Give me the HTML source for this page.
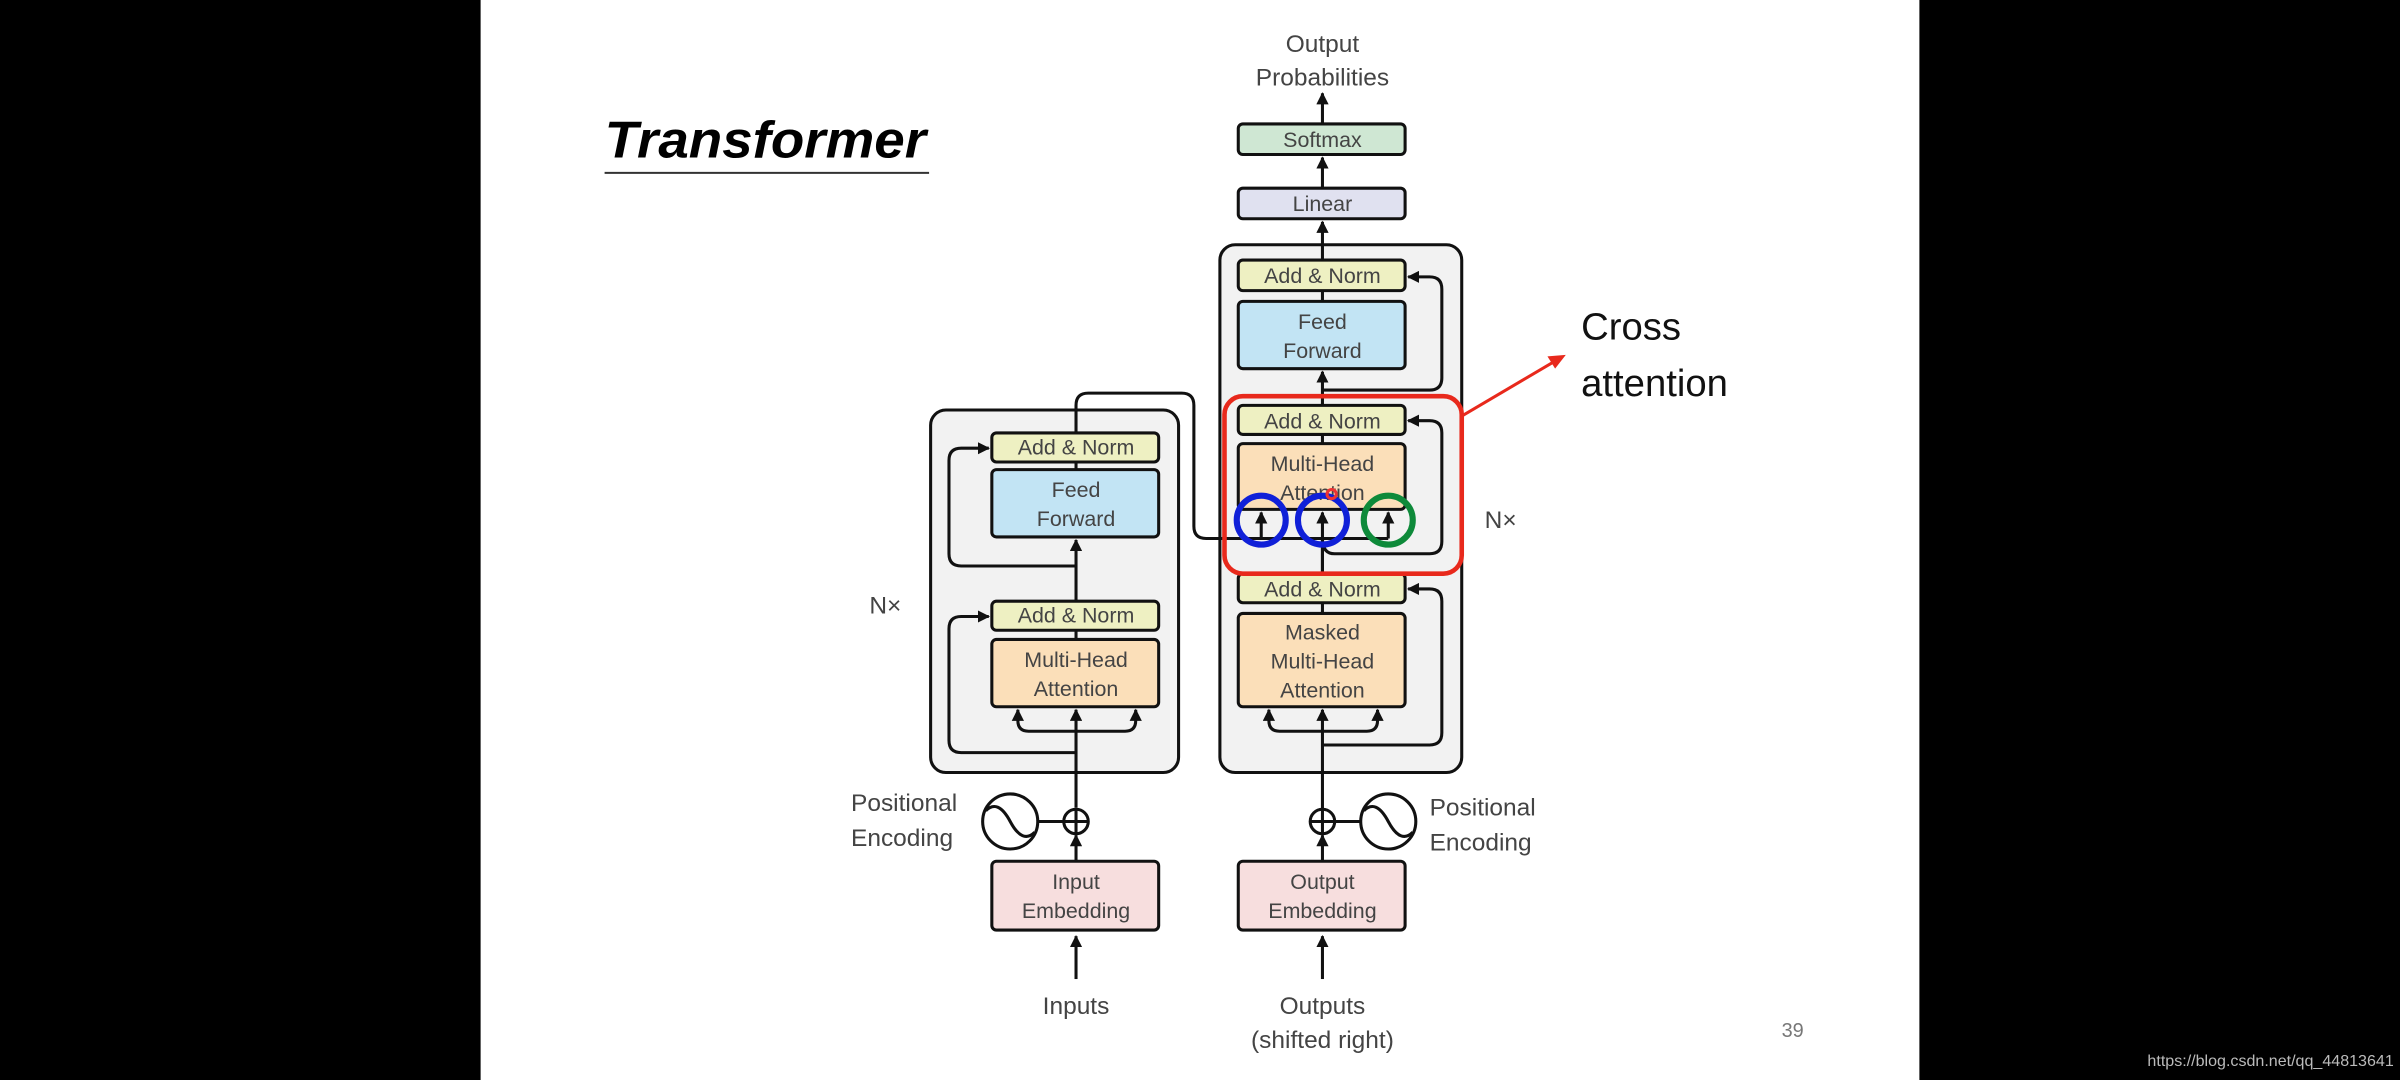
<!DOCTYPE html>
<html><head><meta charset="utf-8"><style>
html,body{margin:0;padding:0;background:#000;width:2400px;height:1080px;overflow:hidden}
svg{display:block}
text{font-family:"Liberation Sans",sans-serif}
</style></head><body>
<svg width="2400" height="1080" viewBox="0 0 1568 706" preserveAspectRatio="none" xmlns="http://www.w3.org/2000/svg">
<defs>
<marker id="a" viewBox="0 0 10 10" refX="9" refY="5" markerWidth="4" markerHeight="4" orient="auto"><path d="M0,0 L10,5 L0,10 z" fill="#111"/></marker>
</defs>
<rect x="0" y="0" width="1568" height="706" fill="#000"/>
<rect x="314" y="0" width="940" height="706" fill="#fff"/>
<text x="395" y="103" font-size="34" font-weight="bold" font-style="italic" textLength="210" lengthAdjust="spacingAndGlyphs" fill="#000">Transformer</text>
<line x1="395" y1="113" x2="607" y2="113" stroke="#333" stroke-width="1.3"/>

<g stroke="#111" stroke-width="2" fill="none">
<!-- encoder box -->
<rect x="608" y="268" width="162" height="237" rx="10" fill="#f2f2f2"/>
<!-- decoder box -->
<rect x="797" y="160" width="158" height="345" rx="10" fill="#f2f2f2"/>
</g>

<g stroke="#111" stroke-width="2" font-size="13">
<!-- encoder blocks -->
<rect x="648" y="283" width="109" height="19" rx="3" fill="#eef0c2"/>
<rect x="648" y="307" width="109" height="44" rx="3" fill="#c2e4f4"/>
<rect x="648" y="393" width="109" height="19" rx="3" fill="#eef0c2"/>
<rect x="648" y="418" width="109" height="44" rx="3" fill="#fbdfb9"/>
<rect x="648" y="563" width="109" height="45" rx="3" fill="#f7dede"/>
<!-- decoder blocks -->
<rect x="809" y="81" width="109" height="20" rx="3" fill="#cfe7d3"/>
<rect x="809" y="123" width="109" height="20" rx="3" fill="#e0e1f0"/>
<rect x="809" y="170" width="109" height="20" rx="3" fill="#eef0c2"/>
<rect x="809" y="197" width="109" height="44" rx="3" fill="#c2e4f4"/>
<rect x="809" y="265" width="109" height="19" rx="3" fill="#eef0c2"/>
<rect x="809" y="290" width="109" height="43" rx="3" fill="#fbdfb9"/>
<rect x="809" y="375" width="109" height="19" rx="3" fill="#eef0c2"/>
<rect x="809" y="401" width="109" height="61" rx="3" fill="#fbdfb9"/>
<rect x="809" y="563" width="109" height="45" rx="3" fill="#f7dede"/>
</g>

<g stroke="#111" stroke-width="2" fill="none">
<!-- encoder connectors -->
<line x1="703" y1="640" x2="703" y2="612" marker-end="url(#a)"/>
<line x1="703" y1="563" x2="703" y2="546" marker-end="url(#a)"/>
<line x1="703" y1="528" x2="703" y2="464" marker-end="url(#a)"/>
<path d="M703,478 H672 Q665,478 665,471 V464" marker-end="url(#a)"/>
<path d="M703,478 H735 Q742,478 742,471 V464" marker-end="url(#a)"/>
<path d="M703,492 H628 Q620,492 620,484 V411 Q620,403 628,403 H646" marker-end="url(#a)"/>
<line x1="703" y1="418" x2="703" y2="412"/>
<line x1="703" y1="393" x2="703" y2="353" marker-end="url(#a)"/>
<path d="M703,370 H628 Q620,370 620,362 V301 Q620,293 628,293 H646" marker-end="url(#a)"/>
<line x1="703" y1="307" x2="703" y2="302"/>
<path d="M703,283 V265 Q703,257 711,257 H772 Q780,257 780,265 V344 Q780,352 788,352 H907"/>
<circle cx="660" cy="537" r="18" fill="#fff"/>
<path d="M644,530 Q652,522 660,537 Q668,552 676,544"/>
<line x1="678" y1="537" x2="695" y2="537"/>
<circle cx="703" cy="537" r="8" fill="#fff"/>
<path d="M695,537 H711 M703,529 V545"/>
<!-- decoder connectors -->
<line x1="864" y1="640" x2="864" y2="612" marker-end="url(#a)"/>
<line x1="864" y1="563" x2="864" y2="546" marker-end="url(#a)"/>
<line x1="864" y1="529" x2="864" y2="464" marker-end="url(#a)"/>
<path d="M864,478 H836 Q829,478 829,471 V464" marker-end="url(#a)"/>
<path d="M864,478 H893 Q900,478 900,471 V464" marker-end="url(#a)"/>
<path d="M864,487 H934 Q942,487 942,479 V393 Q942,385 934,385 H920" marker-end="url(#a)"/>
<line x1="864" y1="401" x2="864" y2="394"/>
<path d="M864,375 V352 Q864,362 872,362 H934 Q942,362 942,354 V283 Q942,275 934,275 H920" marker-end="url(#a)"/>
<line x1="864" y1="375" x2="864" y2="352"/>
<line x1="824" y1="352" x2="824" y2="335" marker-end="url(#a)"/>
<line x1="864" y1="352" x2="864" y2="335" marker-end="url(#a)"/>
<line x1="907" y1="352" x2="907" y2="335" marker-end="url(#a)"/>
<line x1="864" y1="290" x2="864" y2="284"/>
<line x1="864" y1="265" x2="864" y2="243" marker-end="url(#a)"/>
<path d="M864,255 H934 Q942,255 942,247 V189 Q942,181 934,181 H920" marker-end="url(#a)"/>
<line x1="864" y1="197" x2="864" y2="190"/>
<line x1="864" y1="170" x2="864" y2="145" marker-end="url(#a)"/>
<line x1="864" y1="123" x2="864" y2="103" marker-end="url(#a)"/>
<line x1="864" y1="81" x2="864" y2="61" marker-end="url(#a)"/>
<circle cx="864" cy="537" r="8" fill="#fff"/>
<path d="M856,537 H872 M864,529 V545"/>
<line x1="872" y1="537" x2="889" y2="537"/>
<circle cx="907" cy="537" r="18" fill="#fff"/>
<path d="M891,530 Q899,522 907,537 Q915,552 923,544"/>
</g>

<g fill="#444" font-size="14" text-anchor="middle">
<text x="703" y="297">Add &amp; Norm</text>
<text x="703" y="325">Feed</text><text x="703" y="344">Forward</text>
<text x="703" y="407">Add &amp; Norm</text>
<text x="703" y="436">Multi-Head</text><text x="703" y="455">Attention</text>
<text x="703" y="581">Input</text><text x="703" y="600">Embedding</text>
<text x="703" y="663" font-size="16">Inputs</text>
<text x="864" y="96">Softmax</text>
<text x="864" y="138">Linear</text>
<text x="864" y="185">Add &amp; Norm</text>
<text x="864" y="215">Feed</text><text x="864" y="234">Forward</text>
<text x="864" y="280">Add &amp; Norm</text>
<text x="864" y="308">Multi-Head</text><text x="864" y="327">Attention</text>
<text x="864" y="390">Add &amp; Norm</text>
<text x="864" y="418">Masked</text><text x="864" y="437">Multi-Head</text><text x="864" y="456">Attention</text>
<text x="864" y="581">Output</text><text x="864" y="600">Embedding</text>
<text x="864" y="663" font-size="16">Outputs</text>
<text x="864" y="685" font-size="16">(shifted right)</text>
<text x="864" y="34" font-size="16">Output</text>
<text x="864" y="56" font-size="16">Probabilities</text>
</g>
<g fill="#444" font-size="16">
<text x="556" y="530">Positional</text><text x="556" y="553">Encoding</text>
<text x="934" y="533">Positional</text><text x="934" y="556">Encoding</text>
<text x="568" y="401">N×</text>
<text x="970" y="345">N×</text>
<text x="1164" y="678" font-size="13" fill="#777">39</text>
</g>

<rect x="800" y="259" width="155" height="116" rx="12" fill="none" stroke="#e8291c" stroke-width="3"/>
<line x1="955" y1="272" x2="1016" y2="236" stroke="#e8291c" stroke-width="2"/>
<path d="M1023,232 L1011,233 L1016,241 z" fill="#e8291c"/>
<text x="1033" y="222" font-size="25" fill="#111">Cross</text>
<text x="1033" y="259" font-size="25" fill="#111">attention</text>

<g fill="none" stroke-width="4">
<circle cx="824" cy="340" r="16" stroke="#1020d8"/>
<circle cx="864" cy="340" r="16" stroke="#1020d8"/>
<circle cx="907" cy="340" r="16" stroke="#0e8a3a"/>
</g>
<circle cx="870" cy="323" r="3" fill="none" stroke="#e33" stroke-width="2"/>

<text x="1403" y="697" font-size="10.5" fill="#bbb">https://blog.csdn.net/qq_44813641</text>
</svg>
</body></html>
